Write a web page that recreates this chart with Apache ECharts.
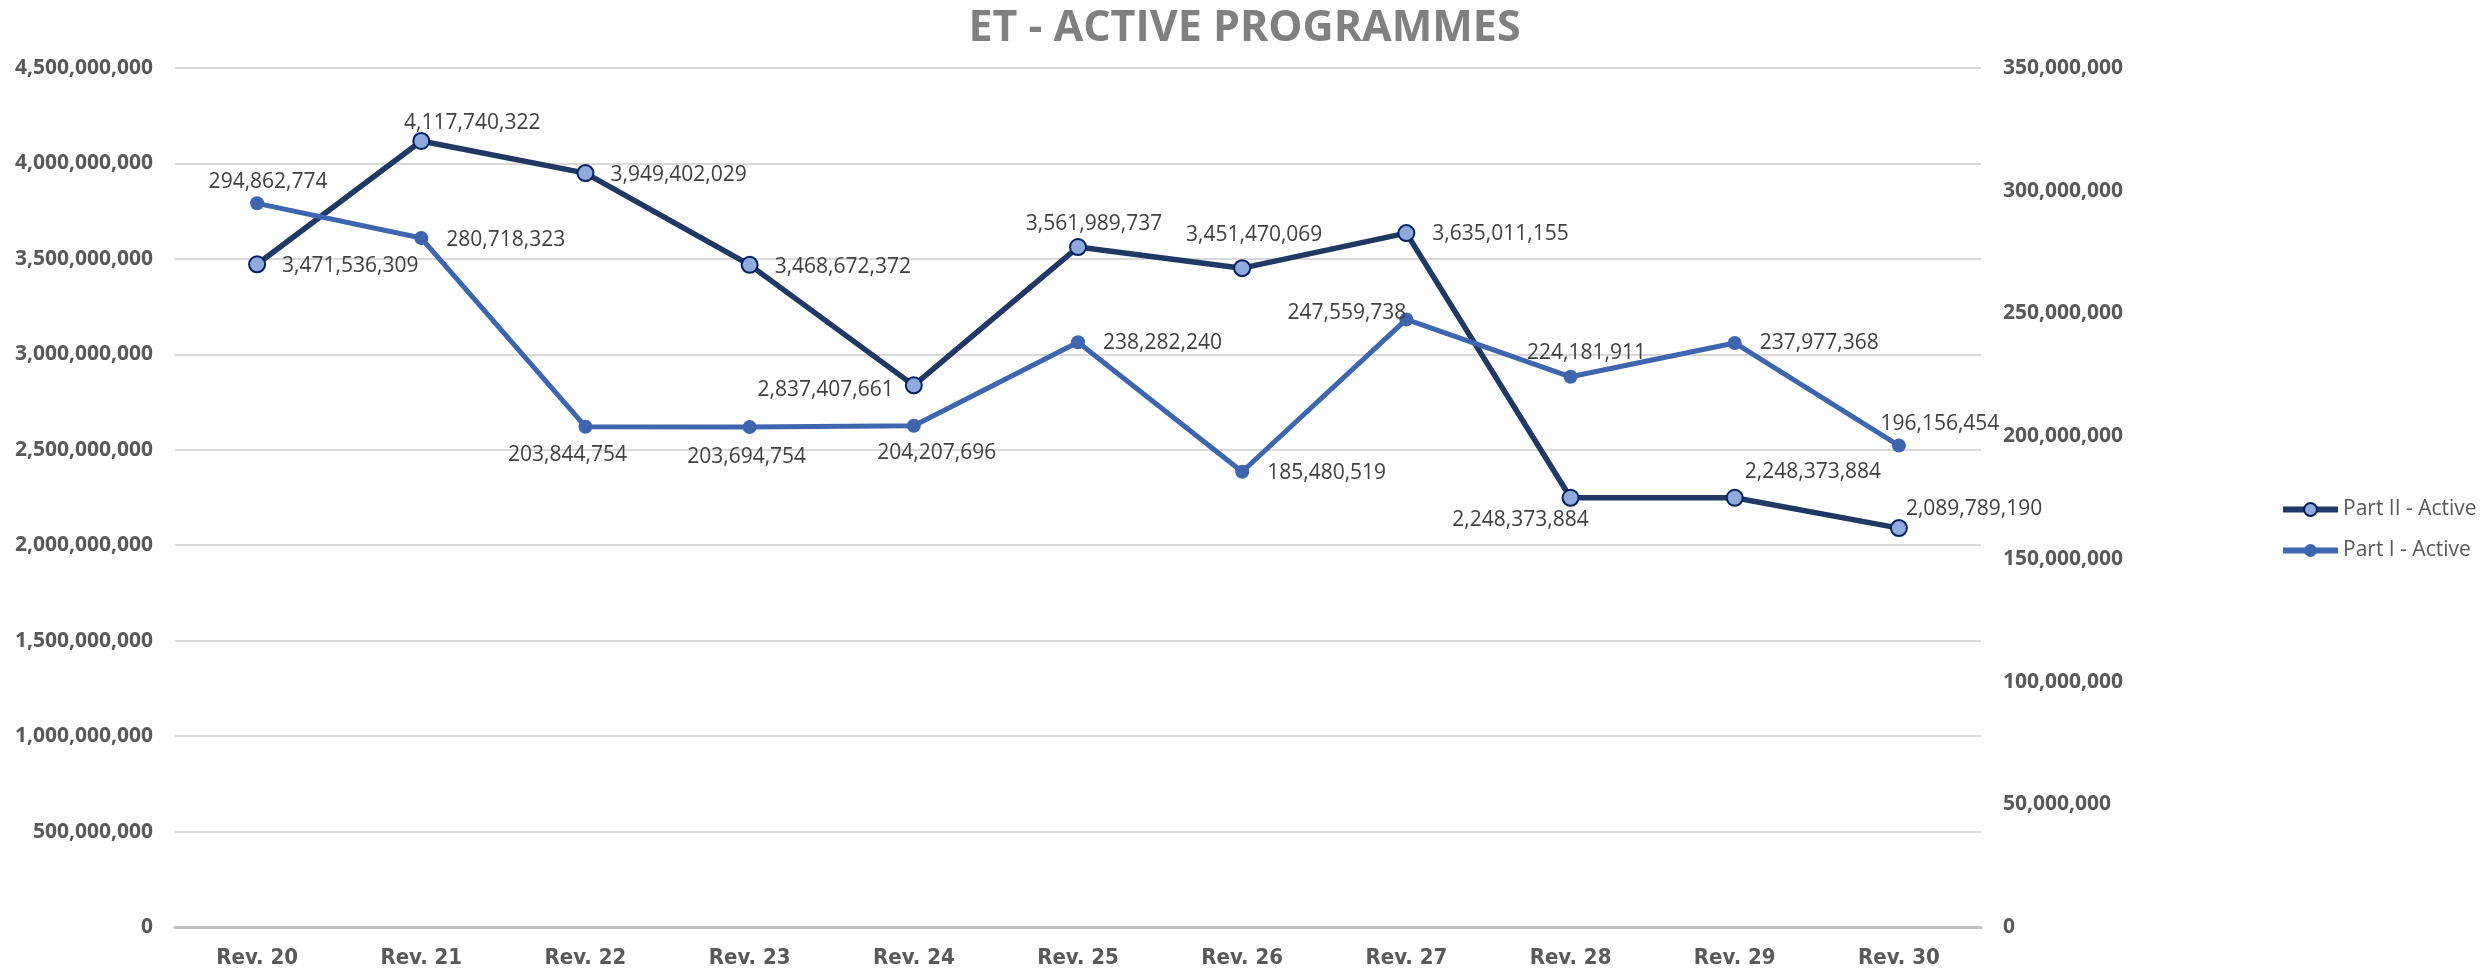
<!DOCTYPE html>
<html>
<head>
<meta charset="utf-8">
<title>ET - Active Programmes</title>
<script src="https://cdn.jsdelivr.net/npm/echarts@6/dist/echarts.min.js"></script>
<style>
    html, body {
        margin: 0;
        padding: 0;
        background: #fff;
    }
    #chart {
        width: 2489px;
        height: 970px;
    }
</style>
</head>
<body>
<div id="chart"></div>
<script>
    // data
    var categories = ['Rev. 20', 'Rev. 21', 'Rev. 22', 'Rev. 23', 'Rev. 24', 'Rev. 25', 'Rev. 26', 'Rev. 27', 'Rev. 28', 'Rev. 29', 'Rev. 30']
    var partTwoActive = [3471536309, 4117740322, 3949402029, 3468672372, 2837407661, 3561989737, 3451470069, 3635011155, 2248373884, 2248373884, 2089789190]
    var partOneActive = [294862774, 280718323, 203844754, 203694754, 204207696, 238282240, 185480519, 247559738, 224181911, 237977368, 196156454]

    // where each value label sits next to its point: [align, dx, dy]
    var partTwoLabelPlace = [
        ['left', 25, 2], ['center', 51, -18], ['left', 25, 2], ['left', 25, 2], ['right', -20, 5], ['center', 16, -23],
        ['center', 12, -33], ['left', 26, 1], ['center', -50, 22], ['left', 10, -26], ['left', 7, -19]
    ]
    var partOneLabelPlace = [
        ['center', 11, -21], ['left', 25, 2], ['center', -18, 28], ['center', -3, 30], ['center', 23, 27], ['left', 25, 1],
        ['left', 25, 1], ['right', 0, -6], ['center', 16, -24], ['left', 25, 0], ['center', 41, -22]
    ]

    function fmt(v) {
        return Number(v).toLocaleString('en-US')
    }

    function withLabels(values, places) {
        return values.map(function (v, i) {
            var p = places[i]
            return {
                value: v,
                label: {
                    position: 'inside',
                    align: p[0],
                    verticalAlign: 'middle',
                    offset: [p[1], p[2]]
                }
            }
        })
    }

    var labelFont = {
        show: true,
        fontFamily: 'Open Sans',
        fontSize: 21,
        color: '#404040',
        formatter: function (p) { return fmt(p.value) }
    }

    var chart = echarts.init(document.getElementById('chart'))
    chart.setOption({
        animation: false,
        backgroundColor: '#fff',
        title: {
            text: 'ET - ACTIVE PROGRAMMES',
            left: 'center',
            top: 2,
            textStyle: {
                fontFamily: 'Open Sans',
                fontWeight: 'bold',
                fontSize: 43,
                color: '#808080'
            }
        },
        legend: {
            orient: 'vertical',
            left: 2275,
            top: 494,
            itemWidth: 55,
            itemHeight: 16,
            itemGap: 20,
            textStyle: {
                fontFamily: 'Open Sans',
                fontSize: 21,
                color: '#595959'
            },
            data: [
                { name: 'Part II - Active', lineStyle: { width: 6 } },
                { name: 'Part I - Active', lineStyle: { width: 6 } }
            ]
        },
        grid: {
            left: 175,
            right: 508,
            top: 68,
            bottom: 43
        },
        xAxis: {
            type: 'category',
            data: categories,
            axisTick: { show: false },
            axisLine: { lineStyle: { color: '#BFBFBF', width: 3 } },
            axisLabel: {
                margin: 20,
                fontFamily: "'Liberation Sans Narrow', 'DejaVu Sans Condensed', sans-serif",
                fontWeight: 'bold',
                fontSize: 22,
                color: '#595959'
            }
        },
        yAxis: [
            {
                type: 'value',
                min: 0,
                max: 4500000000,
                interval: 500000000,
                axisLine: { show: false },
                axisTick: { show: false },
                splitLine: { lineStyle: { color: '#D9D9D9', width: 2 } },
                axisLabel: {
                    margin: 22,
                    fontFamily: 'Open Sans',
                    fontWeight: 'bold',
                    fontSize: 21,
                    color: '#595959',
                    formatter: fmt
                }
            },
            {
                type: 'value',
                min: 0,
                max: 350000000,
                interval: 50000000,
                axisLine: { show: false },
                axisTick: { show: false },
                splitLine: { show: false },
                axisLabel: {
                    margin: 22,
                    fontFamily: 'Open Sans',
                    fontWeight: 'bold',
                    fontSize: 21,
                    color: '#595959',
                    formatter: fmt
                }
            }
        ],
        series: [
            {
                name: 'Part II - Active',
                type: 'line',
                yAxisIndex: 0,
                symbol: 'circle',
                symbolSize: 16,
                lineStyle: { color: '#203864', width: 5.5 },
                itemStyle: { color: '#8FAADC', borderColor: '#002060', borderWidth: 2 },
                label: labelFont,
                data: withLabels(partTwoActive, partTwoLabelPlace)
            },
            {
                name: 'Part I - Active',
                type: 'line',
                yAxisIndex: 1,
                symbol: 'circle',
                symbolSize: 14,
                lineStyle: { color: '#3E66AE', width: 5 },
                itemStyle: { color: '#3E66AE' },
                label: labelFont,
                data: withLabels(partOneActive, partOneLabelPlace)
            }
        ]
    })
</script>
</body>
</html>
